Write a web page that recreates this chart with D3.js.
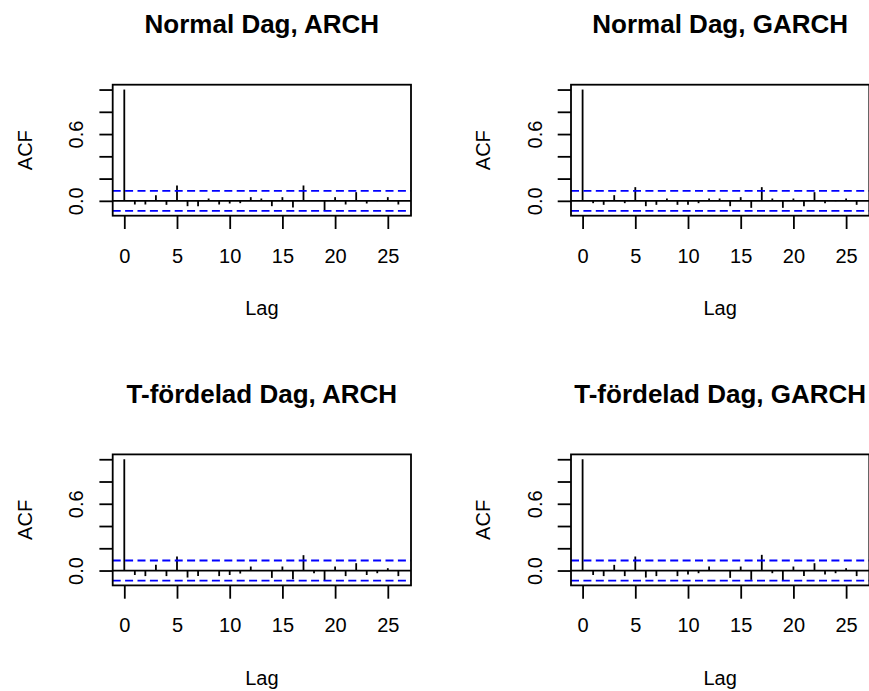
<!DOCTYPE html>
<html><head><meta charset="utf-8">
<script src="https://cdn.jsdelivr.net/npm/d3@7/dist/d3.min.js"></script>
<style>
body{margin:0;background:#fff}
svg{display:block;background:#fff}
text{font-family:"Liberation Sans",Arial,Helvetica,sans-serif;fill:#000}
</style>
</head><body>
<svg id="chart" width="869" height="691"></svg>
<script>
// ---- data ----
const lags = [0,1,2,3,4,5,6,7,8,9,10,11,12,13,14,15,16,17,18,19,20,21,22,23,24,25,26];
const xTickValues = [0,5,10,15,20,25];
const yTickValues = [0,0.2,0.4,0.6,0.8,1.0];
const yTickLabels = ["0.0","","","0.6","",""];
const titles = ["Normal Dag, ARCH","Normal Dag, GARCH","T-fördelad Dag, ARCH","T-fördelad Dag, GARCH"];
const xLabel = "Lag";
const yLabel = "ACF";
const ciBound = 0.09;

const acfNormalArch  = [1,-0.033,-0.033,0.051,-0.036,0.138,-0.048,-0.048,0.021,-0.033,-0.024,-0.021,0.033,0.021,-0.048,0.033,-0.060,0.138,0.004,-0.087,0.033,-0.033,0.078,-0.024,-0.003,0.033,-0.033];
const acfNormalGarch = [1,-0.021,-0.036,0.051,-0.021,0.123,-0.048,-0.036,0.021,-0.036,-0.036,-0.021,0.021,0.021,-0.048,0.033,-0.063,0.123,0.021,-0.063,0.021,-0.048,0.078,-0.021,-0.003,0.021,-0.036];
const acfTArch       = [1,-0.040,-0.050,0.051,-0.050,0.126,-0.063,-0.050,0.003,-0.050,-0.040,-0.027,0.036,0.002,-0.066,0.036,-0.078,0.138,-0.024,-0.090,0.036,-0.050,0.066,-0.040,-0.024,0.021,-0.050];
const acfTGarch      = [1,-0.040,-0.050,0.051,-0.050,0.126,-0.063,-0.050,0.002,-0.050,-0.036,-0.024,0.036,0.002,-0.066,0.036,-0.084,0.141,-0.024,-0.090,0.036,-0.050,0.066,-0.036,-0.024,0.021,-0.050];
const series = [acfNormalArch, acfNormalGarch, acfTArch, acfTGarch];

// ---- layout ----
const colLeft = [112.7, 571];
const rowTop = [84.7, 454.4];
const boxW = 298.3, boxH = 131;
const lineW = 1.8;

const svg = d3.select("#chart");
svg.append("rect").attr("width",869).attr("height",691).attr("fill","#fff");

series.forEach((vals, i) => {
  const L = colLeft[i % 2], T = rowTop[Math.floor(i / 2)];
  const x = d3.scaleLinear().domain([-1.1, 27.2]).range([L, L + boxW]);
  const yLo = Math.min(d3.min(vals), -ciBound), yHi = 1;
  const pad = 0.04 * (yHi - yLo);
  const y = d3.scaleLinear().domain([yLo - pad, yHi + pad]).range([T + boxH, T]);

  const g = svg.append("g");
  const clipId = "clip" + i;
  svg.append("clipPath").attr("id", clipId).append("rect")
    .attr("x", L).attr("y", T).attr("width", boxW).attr("height", boxH);

  // bars
  g.append("g").selectAll("line").data(lags).join("line")
    .attr("x1", d => x(d)).attr("x2", d => x(d))
    .attr("y1", y(0)).attr("y2", d => y(vals[d]))
    .attr("stroke", "#000").attr("stroke-width", lineW);

  // zero line
  g.append("line").attr("clip-path", `url(#${clipId})`)
    .attr("x1", L).attr("x2", L + boxW).attr("y1", y(0)).attr("y2", y(0))
    .attr("stroke", "#000").attr("stroke-width", lineW);

  // confidence bounds
  g.append("g").attr("clip-path", `url(#${clipId})`).selectAll("line")
    .data([ciBound, -ciBound]).join("line")
    .attr("x1", L).attr("x2", L + boxW).attr("y1", d => y(d)).attr("y2", d => y(d))
    .attr("stroke", "#0000ff").attr("stroke-width", lineW).attr("stroke-dasharray", "8,4.4");

  // box
  g.append("rect").attr("x", L).attr("y", T).attr("width", boxW).attr("height", boxH)
    .attr("fill", "none").attr("stroke", "#000").attr("stroke-width", lineW);

  // x axis
  const xa = g.append("g").attr("transform", `translate(0,${T + boxH})`)
    .call(d3.axisBottom(x).tickValues(xTickValues).tickSize(13.3).tickFormat(d3.format("d")));
  xa.select(".domain").remove();
  xa.attr("font-family", null).attr("font-size", null);
  xa.selectAll("line").attr("stroke", "#000").attr("stroke-width", lineW);
  xa.selectAll("text").attr("y", 47).attr("dy", null)
    .style("font-size", "20px").attr("fill", "#000");

  // y axis
  const ya = g.append("g").attr("transform", `translate(${L},0)`)
    .call(d3.axisLeft(y).tickValues(yTickValues).tickSize(13.3)
      .tickFormat((d, k) => yTickLabels[k]));
  ya.select(".domain").remove();
  ya.attr("font-family", null).attr("font-size", null);
  ya.selectAll("line").attr("stroke", "#000").attr("stroke-width", lineW);
  ya.selectAll("text").attr("x", null).attr("dy", null)
    .attr("text-anchor", "middle")
    .attr("transform", "translate(-29.4,0) rotate(-90)")
    .style("font-size", "20px").attr("fill", "#000");

  // labels
  g.append("text").attr("x", L + boxW / 2).attr("y", T - 51.5)
    .attr("text-anchor", "middle").style("font-size", "26px").style("font-weight", "bold")
    .text(titles[i]);
  g.append("text").attr("x", L + boxW / 2).attr("y", T + boxH + 99.3)
    .attr("text-anchor", "middle").style("font-size", "20px").text(xLabel);
  g.append("text")
    .attr("transform", `translate(${L - 81},${T + boxH / 2}) rotate(-90)`)
    .attr("text-anchor", "middle").style("font-size", "20px").text(yLabel);
});
</script>
</body></html>
